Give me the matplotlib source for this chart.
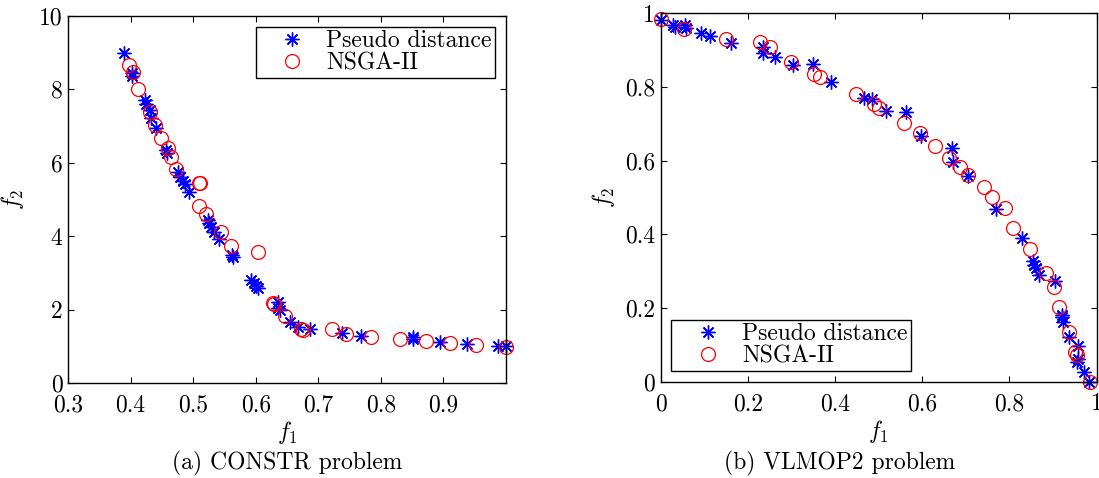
import matplotlib
matplotlib.use("Agg")
import matplotlib.pyplot as plt

plt.rcParams['font.family'] = 'serif'
plt.rcParams['font.serif'] = ['cmr10']
plt.rcParams['mathtext.fontset'] = 'cm'
plt.rcParams['axes.formatter.use_mathtext'] = True

# CONSTR problem
constr_pd_f1 = [0.389, 0.403, 0.403, 0.423, 0.424, 0.431, 0.433, 0.440, 0.457, 0.458,
                0.475, 0.479, 0.484, 0.487, 0.494, 0.523, 0.525, 0.529, 0.533, 0.542,
                0.562, 0.563, 0.593, 0.597, 0.601, 0.603, 0.636, 0.636, 0.639, 0.655,
                0.668, 0.686, 0.738, 0.769, 0.851, 0.851, 0.894, 0.937, 0.988, 1.0]
constr_pd_f2 = [9.0, 8.44, 8.35, 7.71, 7.6, 7.44, 7.21, 6.94, 6.35, 6.26,
                5.76, 5.6, 5.49, 5.41, 5.19, 4.44, 4.35, 4.26, 4.12, 3.92,
                3.49, 3.42, 2.81, 2.72, 2.64, 2.58, 2.22, 2.04, 1.98, 1.67,
                1.53, 1.47, 1.37, 1.29, 1.25, 1.20, 1.11, 1.06, 1.01, 1.0]
constr_ns_f1 = [0.398, 0.404, 0.412, 0.431, 0.439, 0.448, 0.460, 0.464, 0.473, 0.509,
                0.511, 0.510, 0.521, 0.545, 0.560, 0.604, 0.627, 0.629, 0.646, 0.673,
                0.675, 0.722, 0.744, 0.784, 0.831, 0.872, 0.911, 0.952, 1.0]
constr_ns_f2 = [8.66, 8.46, 8.0, 7.39, 7.03, 6.67, 6.40, 6.15, 5.82, 5.46,
                5.44, 4.83, 4.60, 4.12, 3.74, 3.58, 2.19, 2.16, 1.83, 1.47,
                1.45, 1.46, 1.34, 1.26, 1.20, 1.15, 1.08, 1.04, 0.99]

# VLMOP2 problem
vlmop_pd_f1 = [0.0, 0.029, 0.032, 0.056, 0.059, 0.093, 0.113, 0.161, 0.234, 0.234,
               0.263, 0.303, 0.349, 0.391, 0.466, 0.485, 0.516, 0.562, 0.598, 0.667,
               0.671, 0.705, 0.769, 0.828, 0.853, 0.856, 0.860, 0.868, 0.904, 0.920,
               0.921, 0.922, 0.937, 0.958, 0.958, 0.955, 0.972, 0.983]
vlmop_pd_f2 = [0.982, 0.968, 0.964, 0.968, 0.960, 0.946, 0.937, 0.919, 0.909, 0.891,
               0.882, 0.860, 0.862, 0.814, 0.769, 0.767, 0.736, 0.731, 0.667, 0.634,
               0.595, 0.558, 0.468, 0.389, 0.328, 0.317, 0.309, 0.290, 0.274, 0.181,
               0.175, 0.163, 0.122, 0.098, 0.061, 0.055, 0.027, 0.0]
vlmop_ns_f1 = [0.0, 0.054, 0.149, 0.228, 0.251, 0.299, 0.351, 0.365, 0.449, 0.489,
               0.500, 0.559, 0.594, 0.629, 0.661, 0.686, 0.705, 0.742, 0.759, 0.789,
               0.808, 0.847, 0.883, 0.903, 0.914, 0.937, 0.951, 0.954, 0.985]
vlmop_ns_f2 = [0.984, 0.957, 0.929, 0.923, 0.909, 0.867, 0.834, 0.828, 0.780, 0.754,
               0.744, 0.703, 0.674, 0.640, 0.608, 0.582, 0.560, 0.529, 0.502, 0.471,
               0.417, 0.360, 0.294, 0.256, 0.202, 0.134, 0.082, 0.073, 0.0]

constr_xticks = [0.3, 0.4, 0.5, 0.6, 0.7, 0.8, 0.9]
constr_xlabels = ['0.3', '0.4', '0.5', '0.6', '0.7', '0.8', '0.9']
constr_yticks = [0, 2, 4, 6, 8, 10]
constr_ylabels = ['0', '2', '4', '6', '8', '10']
vlmop_ticks = [0, 0.2, 0.4, 0.6, 0.8, 1.0]
vlmop_labels = ['0', '0.2', '0.4', '0.6', '0.8', '1']

fs = 17
fig = plt.figure(figsize=(10.99, 4.78), dpi=100)
ax1 = fig.add_axes([0.0619, 0.1987, 0.3985, 0.768])
ax2 = fig.add_axes([0.6012, 0.2013, 0.3967, 0.771])

star = (8, 2, 0)


def draw(ax, pd_x, pd_y, ns_x, ns_y, loc):
    ax.plot(pd_x, pd_y, linestyle='none', marker=star, color='blue',
            markersize=10, markeredgewidth=1.0, label='Pseudo distance', clip_on=False)
    ax.plot(ns_x, ns_y, linestyle='none', marker='o', markerfacecolor='none',
            markeredgecolor='red', markersize=10, markeredgewidth=0.9,
            label='NSGA-II', clip_on=False)
    ax.tick_params(direction='in', top=True, right=True, length=4, width=0.8,
                   labelsize=fs)
    ax.tick_params(axis='x', pad=8)
    ax.tick_params(axis='y', pad=4)
    for s in ax.spines.values():
        s.set_linewidth(1.0)
    leg = ax.legend(loc=loc, fontsize=fs, frameon=True, fancybox=False,
                    framealpha=1, edgecolor='black', borderpad=0.15,
                    labelspacing=0.0, handletextpad=0.05, borderaxespad=0.45,
                    handlelength=2.8)
    leg.get_frame().set_linewidth(1.0)


draw(ax1, constr_pd_f1, constr_pd_f2, constr_ns_f1, constr_ns_f2, 'upper right')
ax1.set_xlim(0.3, 1.0)
ax1.set_ylim(0, 10)
ax1.set_xticks(constr_xticks)
ax1.set_xticklabels(constr_xlabels)
ax1.set_yticks(constr_yticks)
ax1.set_yticklabels(constr_ylabels)
ax1.set_xlabel('$f_1$', fontsize=fs)
ax1.set_ylabel('$f_2$', fontsize=fs)
ax1.xaxis.set_label_coords(0.5, -0.097)
ax1.yaxis.set_label_coords(-0.096, 0.5)

draw(ax2, vlmop_pd_f1, vlmop_pd_f2, vlmop_ns_f1, vlmop_ns_f2, 'lower left')
ax2.set_xlim(0, 1)
ax2.set_ylim(0, 1)
ax2.set_xticks(vlmop_ticks)
ax2.set_xticklabels(vlmop_labels)
ax2.set_yticks(vlmop_ticks)
ax2.set_yticklabels(vlmop_labels)
ax2.set_xlabel('$f_1$', fontsize=fs)
ax2.set_ylabel('$f_2$', fontsize=fs)
ax2.xaxis.set_label_coords(0.5, -0.097)
ax2.yaxis.set_label_coords(-0.10, 0.5)

fig.text(0.261, 0.030, '(a) CONSTR problem', fontsize=fs, ha='center', va='center')
fig.text(0.764, 0.030, '(b) VLMOP2 problem', fontsize=fs, ha='center', va='center')

fig.savefig('out.png', dpi=100, facecolor='white')
